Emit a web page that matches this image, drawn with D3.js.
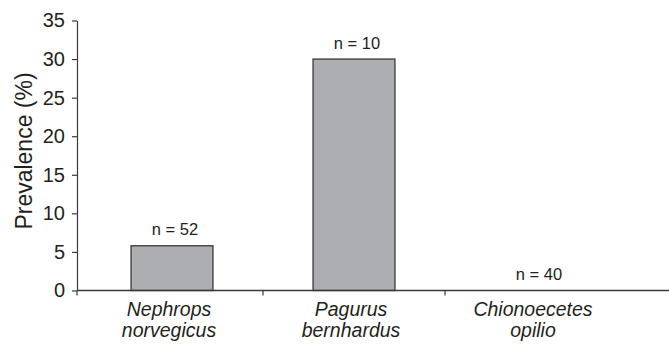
<!DOCTYPE html>
<html><head><meta charset="utf-8">
<script src="https://cdn.jsdelivr.net/npm/d3@7"></script>
<style>
html,body{margin:0;padding:0;background:#fff;}
text{font-family:"Liberation Sans",Arial,Helvetica,sans-serif;fill:#231f20;}
</style></head>
<body>
<svg id="chart" width="669" height="344"></svg>
<script>
const categories = [["Nephrops","norvegicus"],["Pagurus","bernhardus"],["Chionoecetes","opilio"]];
const prevalence = [5.8, 30, 0];
const sampleSizes = [52, 10, 40];
const yTicks = [0,5,10,15,20,25,30,35];
const yTitle = "Prevalence (%)";

const svg = d3.select("#chart");
const axisX = 77, baseY = 290.5, topY = 20.5;
const names = categories.map(c => c.join(" "));

const x = d3.scaleBand().domain(names).range([81, 627]).paddingInner(0.55).paddingOuter(0.275);
const y = d3.scaleLinear().domain([0, 35]).range([baseY, topY]);
const stroke = "#3a3a3a";

// bars
svg.append("g").selectAll("rect").data(prevalence).join("rect")
  .attr("x", (d,i) => x(names[i]))
  .attr("y", d => y(d))
  .attr("width", x.bandwidth())
  .attr("height", d => y(0) - y(d))
  .attr("fill", "#adaeb1")
  .attr("stroke", stroke).attr("stroke-width", 1.3)
  .style("display", d => d > 0 ? null : "none");

// n labels
svg.append("g").selectAll("text").data(sampleSizes).join("text")
  .attr("x", (d,i) => x(names[i]) + x.bandwidth()/2 + 3)
  .attr("y", (d,i) => y(prevalence[i]) - 10.5)
  .attr("text-anchor", "middle")
  .style("font-size", "16.5px")
  .text(d => "n = " + d);

// y axis
const yAxis = svg.append("g").attr("transform", `translate(${axisX},0)`)
  .call(d3.axisLeft(y).tickValues(yTicks).tickSize(5).tickSizeOuter(0).tickPadding(7));
yAxis.select(".domain").attr("stroke", stroke).attr("stroke-width", 1.2);
yAxis.selectAll(".tick line").attr("stroke", stroke).attr("stroke-width", 1.2);
yAxis.selectAll(".tick text").style("font-size", "20px").attr("font-family", null).attr("fill", null);

// x axis baseline and band-boundary ticks
const step = x.step();
svg.append("line").attr("x1", axisX).attr("x2", 669).attr("y1", y(0)).attr("y2", y(0))
  .attr("stroke", stroke).attr("stroke-width", 1.3);
const bounds = [axisX].concat(names.slice(1).map(n => x(n) + x.bandwidth()/2 - step/2));
svg.append("g").selectAll("line").data(bounds).join("line")
  .attr("x1", d => d).attr("x2", d => d)
  .attr("y1", y(0)).attr("y2", y(0) + 5)
  .attr("stroke", stroke).attr("stroke-width", 1.2);

// category labels
const cl = svg.append("g").selectAll("text").data(categories).join("text")
  .attr("transform", (d,i) => `translate(${x(names[i]) + x.bandwidth()/2 - 3},316)`)
  .attr("text-anchor", "middle")
  .style("font-size", "19.5px").style("font-style", "italic");
cl.selectAll("tspan").data(d => d).join("tspan")
  .attr("x", 0).attr("y", (d,i) => i * 21)
  .text(d => d);

// y title
svg.append("text")
  .attr("transform", "translate(32,151) rotate(-90)")
  .attr("text-anchor", "middle")
  .style("font-size", "23px")
  .text(yTitle);
</script>
</body></html>
